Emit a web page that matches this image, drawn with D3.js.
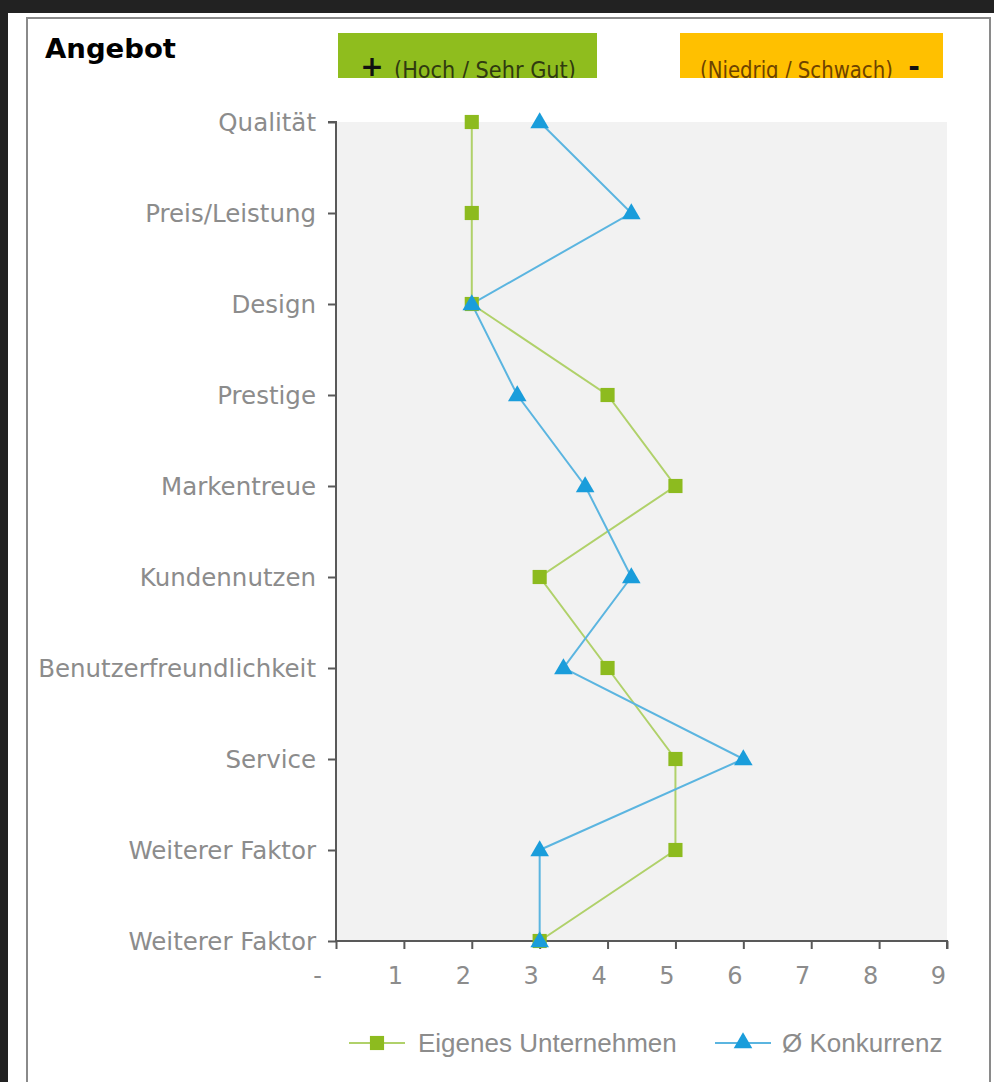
<!DOCTYPE html>
<html>
<head>
<meta charset="utf-8">
<script src="https://cdn.jsdelivr.net/npm/d3@7"></script>
<style>
  body { margin: 0; background: #222222; }
  svg { display: block; }
</style>
</head>
<body>
<div id="chart-area"></div>
<script>
// categories top to bottom
var categories = ["Qualität", "Preis/Leistung", "Design", "Prestige", "Markentreue",
  "Kundennutzen", "Benutzerfreundlichkeit", "Service", "Weiterer Faktor", "Weiterer Faktor"];
var eigenes = [2, 2, 2, 4, 5, 3, 4, 5, 5, 3];
var konkurrenz = [3, 4.35, 2, 2.67, 3.67, 4.35, 3.35, 6, 3, 3];
var xTicks = [0, 1, 2, 3, 4, 5, 6, 7, 8, 9];
var seriesNames = ["Eigenes Unternehmen", "Ø Konkurrenz"];

var width = 994, height = 1082;
var green = "#8dbb1f", greenLine = "#b0d16a";
var blue = "#1a9ddb", blueLine = "#5bb5e0";
var axisColor = "#595959", labelColor = "#8c8c8c";

var svg = d3.select("#chart-area").append("svg")
  .attr("width", width)
  .attr("height", height);

// frame
svg.append("rect").attr("x", 8).attr("y", 13).attr("width", width - 8).attr("height", height - 13)
  .attr("fill", "#fff");
svg.append("rect").attr("x", 27).attr("y", 18).attr("width", 963).attr("height", height)
  .attr("fill", "none").attr("stroke", "#8a8a8a").attr("stroke-width", 2);

var x = d3.scaleLinear().domain([0, 9]).range([336, 947]);
var y = d3.scalePoint().domain(d3.range(categories.length)).range([122, 941]);

// plot background
svg.append("rect")
  .attr("x", x(0)).attr("y", y(0))
  .attr("width", x(9) - x(0)).attr("height", y(categories.length - 1) - y(0))
  .attr("fill", "#f2f2f2");

// title
svg.append("text").attr("x", 45).attr("y", 58)
  .attr("font-family", "DejaVu Sans").attr("font-weight", "bold").attr("font-size", 26)
  .attr("textLength", 131).attr("lengthAdjust", "spacingAndGlyphs")
  .text("Angebot");

// header boxes
var defs = svg.append("defs");
function headerBox(id, x0, w, fill, txt, txtColor, txtX, txtW, signX, sign) {
  defs.append("clipPath").attr("id", id).append("rect")
    .attr("x", x0).attr("y", 33).attr("width", w).attr("height", 45);
  var g = svg.append("g").attr("clip-path", "url(#" + id + ")");
  g.append("rect").attr("x", x0).attr("y", 33).attr("width", w).attr("height", 45).attr("fill", fill);
  var t = g.append("text")
    .attr("font-family", "DejaVu Sans").attr("font-size", 23).attr("fill", txtColor)
    .text(txt);
  // squeeze horizontally to the narrow look of the original
  var k = txtW / t.node().getComputedTextLength();
  t.attr("transform", "translate(" + txtX + ",78) scale(" + k + ",1)");
  g.append("text").attr("x", signX).attr("y", 76)
    .attr("font-family", "DejaVu Sans").attr("font-weight", "bold").attr("font-size", 28)
    .attr("fill", "#111").attr("text-anchor", "middle")
    .text(sign);
}
headerBox("clipG", 338, 259, "#8fbd1e", "(Hoch / Sehr Gut)", "#2f3a10", 394, 182, 372, "+");
headerBox("clipO", 680, 263, "#ffc000", "(Niedrig / Schwach)", "#6e4300", 700, 193, 914, "-");

// axes
var yAxis = d3.axisLeft(y).tickSize(8).tickFormat(function(i) { return categories[i]; });
var gy = svg.append("g").attr("transform", "translate(" + x(0) + ",0)").call(yAxis);
gy.select(".domain").attr("stroke", axisColor).attr("stroke-width", 2)
  .attr("d", "M-8," + y(0) + "H0V" + y(categories.length - 1));
gy.selectAll(".tick line").attr("stroke", axisColor).attr("stroke-width", 2);
gy.selectAll(".tick text").attr("fill", labelColor)
  .attr("font-family", "DejaVu Sans").attr("font-size", 24.5).attr("x", -20).attr("dy", "0.36em");

var xAxis = d3.axisBottom(x).tickValues(xTicks).tickSize(8)
  .tickFormat(function(d) { return d === 0 ? "-" : d; });
var gx = svg.append("g").attr("transform", "translate(0," + y(categories.length - 1) + ")").call(xAxis);
gx.select(".domain").attr("stroke", axisColor).attr("stroke-width", 2)
  .attr("d", "M" + x(0) + ",0H" + x(9) + "V8");
gx.selectAll(".tick line").attr("stroke", axisColor).attr("stroke-width", 2);
gx.selectAll(".tick text").attr("fill", labelColor)
  .attr("font-family", "DejaVu Sans").attr("font-size", 24)
  .attr("dx", function(d) { return d === 0 ? -19 : -9; }).attr("y", 26);

// lines
var line = d3.line().x(function(d) { return x(d); }).y(function(d, i) { return y(i); });
svg.append("path").datum(eigenes).attr("d", line)
  .attr("fill", "none").attr("stroke", greenLine).attr("stroke-width", 2);
svg.append("path").datum(konkurrenz).attr("d", line)
  .attr("fill", "none").attr("stroke", blueLine).attr("stroke-width", 2);

// markers
var square = d3.symbol().type(d3.symbolSquare).size(200);
var triangle = d3.symbol().type(d3.symbolTriangle).size(150);
svg.selectAll(".sq").data(eigenes).enter().append("path")
  .attr("class", "sq").attr("d", square).attr("fill", green)
  .attr("transform", function(d, i) { return "translate(" + x(d) + "," + y(i) + ")"; });
svg.selectAll(".tri").data(konkurrenz).enter().append("path")
  .attr("class", "tri").attr("d", triangle).attr("fill", blue)
  .attr("transform", function(d, i) { return "translate(" + x(d) + "," + (y(i) + 1) + ")"; });

// legend
var legend = [
  { name: seriesNames[0], x0: 349, stroke: greenLine, mark: square, fill: green, tx: 418 },
  { name: seriesNames[1], x0: 715, stroke: blueLine, mark: triangle, fill: blue, tx: 782 }
];
var lg = svg.selectAll(".legend").data(legend).enter().append("g").attr("class", "legend");
lg.append("line").attr("x1", d => d.x0).attr("x2", d => d.x0 + 56)
  .attr("y1", 1043).attr("y2", 1043).attr("stroke", d => d.stroke).attr("stroke-width", 2);
lg.append("path").attr("d", d => d.mark()).attr("fill", d => d.fill)
  .attr("transform", d => "translate(" + (d.x0 + 28) + ",1043)");
lg.append("text").attr("x", d => d.tx).attr("y", 1052)
  .attr("font-family", "Liberation Sans").attr("font-size", 26).attr("fill", labelColor)
  .text(d => d.name);
</script>
</body>
</html>
